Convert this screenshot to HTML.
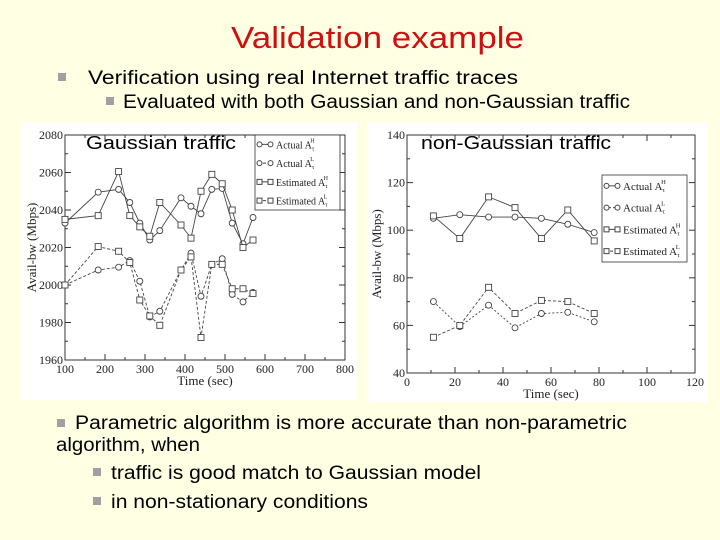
<!DOCTYPE html>
<html><head><meta charset="utf-8"><style>
html,body{margin:0;padding:0;background:#FFFFE3;}
svg{display:block;}
.cs{font-family:"Liberation Sans",sans-serif;}
.sf{font-family:"Liberation Serif",serif;}
</style></head><body>
<svg id="s" width="720" height="540" xmlns="http://www.w3.org/2000/svg">
<rect x="0" y="0" width="720" height="540" fill="#FFFFE3"/>
<text class="cs" x="231" y="48" font-size="31" fill="#D01010" textLength="293" lengthAdjust="spacingAndGlyphs">Validation example</text>
<rect x="58" y="73" width="8" height="8" fill="#A0A0A0"/>
<text class="cs" x="88" y="84" font-size="19" textLength="430" lengthAdjust="spacingAndGlyphs">Verification using real Internet traffic traces</text>
<rect x="106" y="97" width="8" height="8" fill="#A0A0A0"/>
<text class="cs" x="123" y="108" font-size="19" textLength="507" lengthAdjust="spacingAndGlyphs">Evaluated with both Gaussian and non-Gaussian traffic</text>
<rect x="22" y="122" width="335" height="278" fill="#fff"/>
<rect x="367" y="122" width="341" height="280" fill="#fff"/>
<g id="c1"></g><g id="c2"></g>
<text class="cs" x="86" y="149" font-size="18" textLength="150" lengthAdjust="spacingAndGlyphs">Gaussian traffic</text>
<text class="cs" x="421" y="149" font-size="18" textLength="190" lengthAdjust="spacingAndGlyphs">non-Gaussian traffic</text>
<rect x="57" y="419" width="8" height="8" fill="#A0A0A0"/>
<text class="cs" x="75" y="429" font-size="19" textLength="552" lengthAdjust="spacingAndGlyphs">Parametric algorithm is more accurate than non-parametric</text>
<text class="cs" x="56" y="451" font-size="19" textLength="144" lengthAdjust="spacingAndGlyphs">algorithm, when</text>
<rect x="93" y="468" width="8" height="8" fill="#A0A0A0"/>
<text class="cs" x="111" y="479" font-size="19" textLength="370" lengthAdjust="spacingAndGlyphs">traffic is good match to Gaussian model</text>
<rect x="93" y="497" width="8" height="8" fill="#A0A0A0"/>
<text class="cs" x="111" y="508" font-size="19" textLength="257" lengthAdjust="spacingAndGlyphs">in non-stationary conditions</text>
</svg>
<script>
const NS="http://www.w3.org/2000/svg";
// Left chart data
const gX=[100,183,234,262,287,312,337,390,415,440,467,493,518,545,570];
const gActH=[2033,2049.5,2051,2044,2033,2024,2029,2046.5,2042,2038,2051,2051.5,2033,2022,2036];
const gEstH=[2035,2037,2060.5,2037,2031,2026,2044,2032,2025,2050,2059,2054,2040,2020,2024];
const gActL=[2000,2008,2009.5,2013,2002,1983,1986,2008,2017,1994,2011,2014,1995,1991,1996];
const gEstL=[2000,2020.5,2018,2012,1992,1983.5,1978.5,2008,2015,1972,2011,2011,1998,1998,1995.5];
const gXTicks=[100,200,300,400,500,600,700,800];
const gYTicks=[1960,1980,2000,2020,2040,2060,2080];
// Right chart data
const nX=[11,22,34,45,56,67,78];
const nActH=[105,106.5,105.5,105.5,105,102.5,99];
const nEstH=[106,96.5,114,109.5,96.5,108.5,95.5];
const nActL=[70,59.5,68.5,59,65,65.5,61.5];
const nEstL=[55,60,76,65,70.5,70,65];
const nXTicks=[0,20,40,60,80,100,120];
const nYTicks=[40,60,80,100,120,140];

function el(p,t,a){const e=document.createElementNS(NS,t);for(const k in a)e.setAttribute(k,a[k]);p.appendChild(e);return e;}
function chart(g,o){
  const sx=v=>o.x0+(v-o.xmin)/(o.xmax-o.xmin)*(o.x1-o.x0);
  const sy=v=>o.y1-(v-o.ymin)/(o.ymax-o.ymin)*(o.y1-o.y0);
  const box=el(g,'rect',{x:o.x0,y:o.y0,width:o.x1-o.x0,height:o.y1-o.y0,fill:'none',stroke:'#333','stroke-width':1});
  
  
  o.xt.forEach((v,i)=>{
    const x=sx(v);
    el(g,'line',{x1:x,x2:x,y1:o.y1,y2:o.y1-6,stroke:'#333'});
    el(g,'line',{x1:x,x2:x,y1:o.y0,y2:o.y0+6,stroke:'#333'});
    if(i<o.xt.length-1){const xm=sx(v+(o.xt[1]-o.xt[0])/2);
      el(g,'line',{x1:xm,x2:xm,y1:o.y1,y2:o.y1-3,stroke:'#333'});el(g,'line',{x1:xm,x2:xm,y1:o.y0,y2:o.y0+3,stroke:'#333'});}
    const t=el(g,'text',{x:x,y:o.y1+13,'font-size':12,'text-anchor':'middle','class':'sf',fill:'#222'});
    t.textContent=v;
    
    
  });
  o.yt.forEach((v,i)=>{
    const y=sy(v);
    el(g,'line',{x1:o.x0,x2:o.x0+6,y1:y,y2:y,stroke:'#333'});
    el(g,'line',{x1:o.x1,x2:o.x1-6,y1:y,y2:y,stroke:'#333'});
    if(i<o.yt.length-1){const ym=sy(v+(o.yt[1]-o.yt[0])/2);
      el(g,'line',{x1:o.x0,x2:o.x0+3,y1:ym,y2:ym,stroke:'#333'});el(g,'line',{x1:o.x1,x2:o.x1-3,y1:ym,y2:ym,stroke:'#333'});}
    const t=el(g,'text',{x:o.x0-2,y:y+4,'font-size':12,'text-anchor':'end','class':'sf',fill:'#222'});
    t.textContent=v;
    
    
  });
  const xl=el(g,'text',{x:(o.x0+o.x1)/2,y:o.y1+25,'font-size':13,'text-anchor':'middle','class':'sf',fill:'#222'});
  xl.textContent='Time (sec)';
  
  
  const cy=(o.y0+o.y1)/2;
  const yl=el(g,'text',{x:o.ylx,y:cy,'font-size':13,'text-anchor':'middle','class':'sf',fill:'#222',transform:`rotate(-90 ${o.ylx} ${cy})`});
  yl.textContent='Avail-bw (Mbps)';
  
  
  o.series.forEach(s=>{
    const pts=o.xs.map((x,i)=>sx(x)+','+sy(s.v[i])).join(' ');
    if(s.line){const pl=el(g,'polyline',{points:pts,fill:'none',stroke:'#444','stroke-width':0.9,'stroke-dasharray':s.dash||'none'});
      
      }
    o.xs.forEach((x,i)=>{
      const cx=sx(x),cy2=sy(s.v[i]);
      const m=s.sq?el(g,'rect',{x:cx-3,y:cy2-3,width:6,height:6,fill:'#fff',stroke:'#444','stroke-width':0.9}):el(g,'circle',{cx:cx,cy:cy2,r:3,fill:'#fff',stroke:'#444','stroke-width':0.9});
      
      
    });
  });
  const L=o.leg;
  const lb=el(g,'rect',{x:L.x,y:L.y,width:L.w,height:L.h,fill:'#fff',stroke:'#333','stroke-width':0.8});
  
  
  o.series.forEach((s,i)=>{
    const y=L.y+L.h/8+i*L.h/4;
    el(g,'line',{x1:L.x+3,x2:L.x+17,y1:y,y2:y,stroke:'#444','stroke-dasharray':s.dash||'none'});
    if(s.sq){el(g,'rect',{x:L.x+2,y:y-2.5,width:5,height:5,fill:'#fff',stroke:'#444'});el(g,'rect',{x:L.x+13,y:y-2.5,width:5,height:5,fill:'#fff',stroke:'#444'});}
    else{el(g,'circle',{cx:L.x+4.5,cy:y,r:2.5,fill:'#fff',stroke:'#444'});el(g,'circle',{cx:L.x+15.5,cy:y,r:2.5,fill:'#fff',stroke:'#444'});}
    const t=el(g,'text',{x:L.x+21,y:y+4,'font-size':L.fs,'class':'sf',fill:'#222'});
    t.textContent=s.label+' A';
    const sp=el(t,'tspan',{'font-size':L.fs*0.6,dy:2});sp.textContent='τ';
    const sp2=el(t,'tspan',{'font-size':L.fs*0.6,dy:-8,dx:-4});sp2.textContent=s.sup;
    
    
  });
}
chart(document.getElementById('c1'),{p:'gaussian',x0:65,x1:345,y0:135,y1:360,xmin:100,xmax:800,ymin:1960,ymax:2080,
  xt:gXTicks,yt:gYTicks,ylx:36,xs:gX,
  leg:{x:255,y:135,w:85,h:75,fs:10},
  series:[{n:'actual-h',v:gActH,line:true,label:'Actual',sup:'H'},
          {n:'actual-l',v:gActL,line:true,dash:'3,2',label:'Actual',sup:'L'},
          {n:'estimated-h',v:gEstH,line:true,sq:true,label:'Estimated',sup:'H'},
          {n:'estimated-l',v:gEstL,line:true,sq:true,dash:'3,2',label:'Estimated',sup:'L'}]});
chart(document.getElementById('c2'),{p:'non-gaussian',x0:407,x1:695,y0:135,y1:373,xmin:0,xmax:120,ymin:40,ymax:140,
  xt:nXTicks,yt:nYTicks,ylx:381,xs:nX,
  leg:{x:602,y:175,w:85,h:87,fs:11},
  series:[{n:'actual-h',v:nActH,line:true,label:'Actual',sup:'H'},
          {n:'actual-l',v:nActL,line:true,dash:'2,2',label:'Actual',sup:'L'},
          {n:'estimated-h',v:nEstH,line:true,sq:true,label:'Estimated',sup:'H'},
          {n:'estimated-l',v:nEstL,line:true,sq:true,dash:'3,2',label:'Estimated',sup:'L'}]});
</script>
</body></html>
